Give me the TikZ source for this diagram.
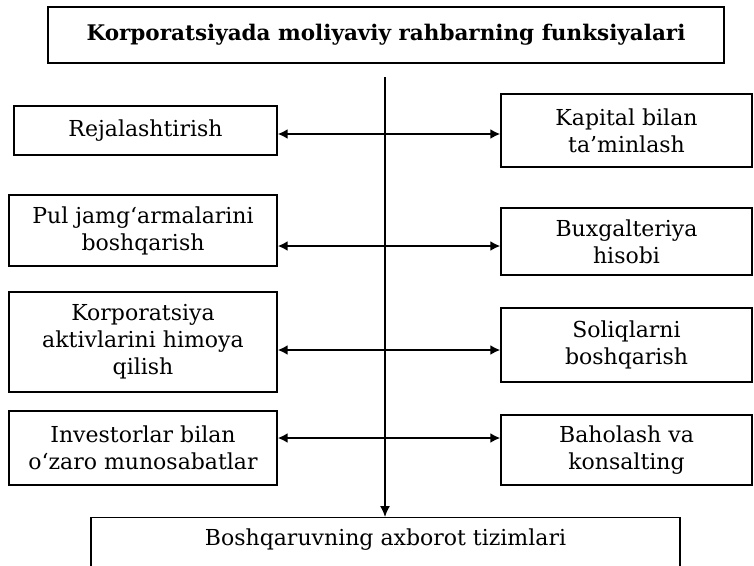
\documentclass[tikz,border=0pt]{standalone}
\usepackage{fontspec}
\setmainfont{DejaVu Serif}
\usetikzlibrary{arrows.meta}
\begin{document}
\begin{tikzpicture}[x=1pt,y=-1pt,
  box/.style={draw,line width=1.3pt,align=center,inner sep=0pt,
    font=\fontsize{22}{27}\selectfont},
  tip/.style={Latex[length=10pt,width=10pt]},
  link/.style={line width=2pt,{Latex[length=10pt,width=10pt]}-{Latex[length=10pt,width=10pt]}},
  trunk/.style={line width=1.4pt,-{Latex[length=11pt,width=10pt]}}]
\useasboundingbox (0,0) rectangle (754,565);
% heading
\node[box,minimum width=676pt,minimum height=56pt,font=\fontsize{21.5}{27}\selectfont\bfseries]
  (title) at (386,35) {Korporatsiyada moliyaviy rahbarning funksiyalari};
% left column
\node[box,minimum width=263pt,minimum height=49pt] (rej) at (145.5,130.5) {Rejalashtirish};
\node[box,minimum width=268pt,minimum height=71pt] (pul) at (143,230.5) {Pul jamg‘armalarini\\boshqarish};
\node[box,minimum width=268pt,minimum height=100pt] (kor) at (143,342) {Korporatsiya\\aktivlarini himoya\\qilish};
\node[box,minimum width=268pt,minimum height=74pt] (inv) at (143,448) {Investorlar bilan\\o‘zaro munosabatlar};
% right column
\node[box,minimum width=251pt,minimum height=73pt] (kap) at (626.5,130.5) {Kapital bilan\\ta’minlash};
\node[box,minimum width=251pt,minimum height=67pt] (bux) at (626.5,241.5) {Buxgalteriya\\hisobi};
\node[box,minimum width=251pt,minimum height=74pt] (sol) at (626.5,345) {Soliqlarni\\boshqarish};
\node[box,minimum width=251pt,minimum height=70pt] (bah) at (626.5,450) {Baholash va\\konsalting};
% bottom box, running past the lower edge
\node[box,minimum width=589pt,minimum height=64pt,anchor=north] (bot) at (385.5,517) {};
\node[font=\fontsize{22}{27}\selectfont] (bottxt) at (385.5,540) {Boshqaruvning axborot tizimlari};
% trunk
\coordinate (top) at (385,77);
\draw[trunk] (top) -- (bot.north -| top);
% branches
\coordinate (r1) at (385,134);
\coordinate (r2) at (385,246);
\coordinate (r3) at (385,350);
\coordinate (r4) at (385,438);
\draw[link] (r1 -| rej.east) -- (r1 -| kap.west);
\draw[link] (r2 -| pul.east) -- (r2 -| bux.west);
\draw[link] (r3 -| kor.east) -- (r3 -| sol.west);
\draw[link] (r4 -| inv.east) -- (r4 -| bah.west);
\end{tikzpicture}
\end{document}
